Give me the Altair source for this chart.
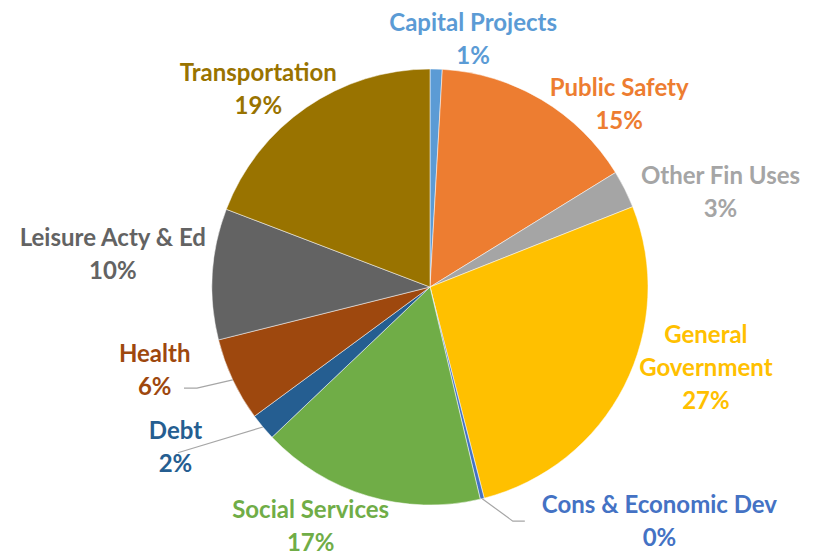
import math
import altair as alt
import pandas as pd

# Data (share of total, percent), clockwise from 12 o'clock
categories = ["Capital Projects", "Public Safety", "Other Fin Uses", "General Government",
              "Cons & Economic Dev", "Social Services", "Debt", "Health",
              "Leisure Acty & Ed", "Transportation"]
values = [0.9, 15.3, 2.8, 27.0, 0.3, 16.6, 2.0, 6.2, 9.7, 19.2]
label_names = ["Capital Projects", "Public Safety", "Other Fin Uses", "General\nGovernment",
               "Cons & Economic Dev", "Social Services", "Debt", "Health",
               "Leisure Acty & Ed", "Transportation"]

# Styling / layout
colors = ["#5B9BD5", "#ED7D31", "#A5A5A5", "#FFC000", "#4472C4",
          "#70AD47", "#255E91", "#9E480E", "#636363", "#997300"]
label_nudge_deg = [8.2, 15.0, 8.3, -11.0, -30.7, 10.1, 8.0, 8.8, 2.7, -6.2]
label_radius = [253, 264, 306, 287, 327, 266, 300, 287, 319, 263]
# leader-line bends/ends, relative to the label's anchor
leader_offsets = {
    "Cons & Economic Dev": [(-146.6, -1.8), (-134.6, -1.8)],
    "Health": [(42.3, 17.0), (29.3, 17.0)],
    "Debt": [(2.4, 4.0)],
}

PIE_R = 218
CX, CY = 422, 279
LINE_H = 33
FONT_SIZE = 24
TEXT_DY = 3

total = sum(values)
rows = []
lead_rows = []
cum = 0.0
for i, (c, v) in enumerate(zip(categories, values)):
    start, end = cum, cum + v
    cum = end
    mid = (start + end) / 2
    text = f"{label_names[i]}\n{round(v)}%"
    lab_theta = mid + label_nudge_deg[i] / 360.0 * total
    rows.append({
        "name": c,
        "value": v,
        "start": start,
        "end": end,
        "label": text,
        "nlines": text.count("\n") + 1,
        "lab_theta": lab_theta,
        "lab_r": label_radius[i],
    })
    if c in leader_offsets:
        a_mid = mid / total * 2 * math.pi
        a_lab = lab_theta / total * 2 * math.pi
        lx = CX + label_radius[i] * math.sin(a_lab)
        ly = CY - label_radius[i] * math.cos(a_lab) + TEXT_DY
        pts = [(CX + PIE_R * math.sin(a_mid), CY - PIE_R * math.cos(a_mid))]
        pts += [(lx + ox, ly + oy) for ox, oy in leader_offsets[c]]
        for k, (px, py) in enumerate(pts):
            lead_rows.append({"name": c, "k": k, "px": px, "py": py})

df = pd.DataFrame(rows)
lead_df = pd.DataFrame(lead_rows)

theta_scale = alt.Scale(domain=[0, total])
color_scale = alt.Scale(domain=categories, range=colors)

base = alt.Chart(df)

pie = base.mark_arc(outerRadius=PIE_R, stroke="white", strokeWidth=0.5).encode(
    theta=alt.Theta("start:Q", scale=theta_scale),
    theta2="end:Q",
    color=alt.Color("name:N", scale=color_scale, legend=None),
    x=alt.value(CX),
    y=alt.value(CY),
)

leaders = alt.Chart(lead_df).mark_line(color="#A6A6A6", strokeWidth=1.2).encode(
    x=alt.X("px:Q", scale=None),
    y=alt.Y("py:Q", scale=None),
    detail="name:N",
    order="k:Q",
)


def label_layer(n):
    return base.transform_filter(alt.datum.nlines == n).mark_text(
        font="Lato", fontWeight="bold", fontSize=FONT_SIZE, lineBreak="\n",
        lineHeight=LINE_H, align="center", baseline="middle",
        dy=TEXT_DY - (n - 1) * LINE_H / 2,
    ).encode(
        theta=alt.Theta("lab_theta:Q", scale=theta_scale),
        radius=alt.Radius("lab_r:Q", scale=None),
        text="label:N",
        color=alt.Color("name:N", scale=color_scale, legend=None),
        x=alt.value(CX),
        y=alt.value(CY),
    )


chart = alt.layer(pie, leaders, label_layer(2), label_layer(3)).properties(
    width=799, height=548, padding=0,
    autosize=alt.AutoSizeParams(type="none"),
).configure_view(stroke=None)

chart.save("out.html", embed_options={"renderer": "svg", "actions": False})
